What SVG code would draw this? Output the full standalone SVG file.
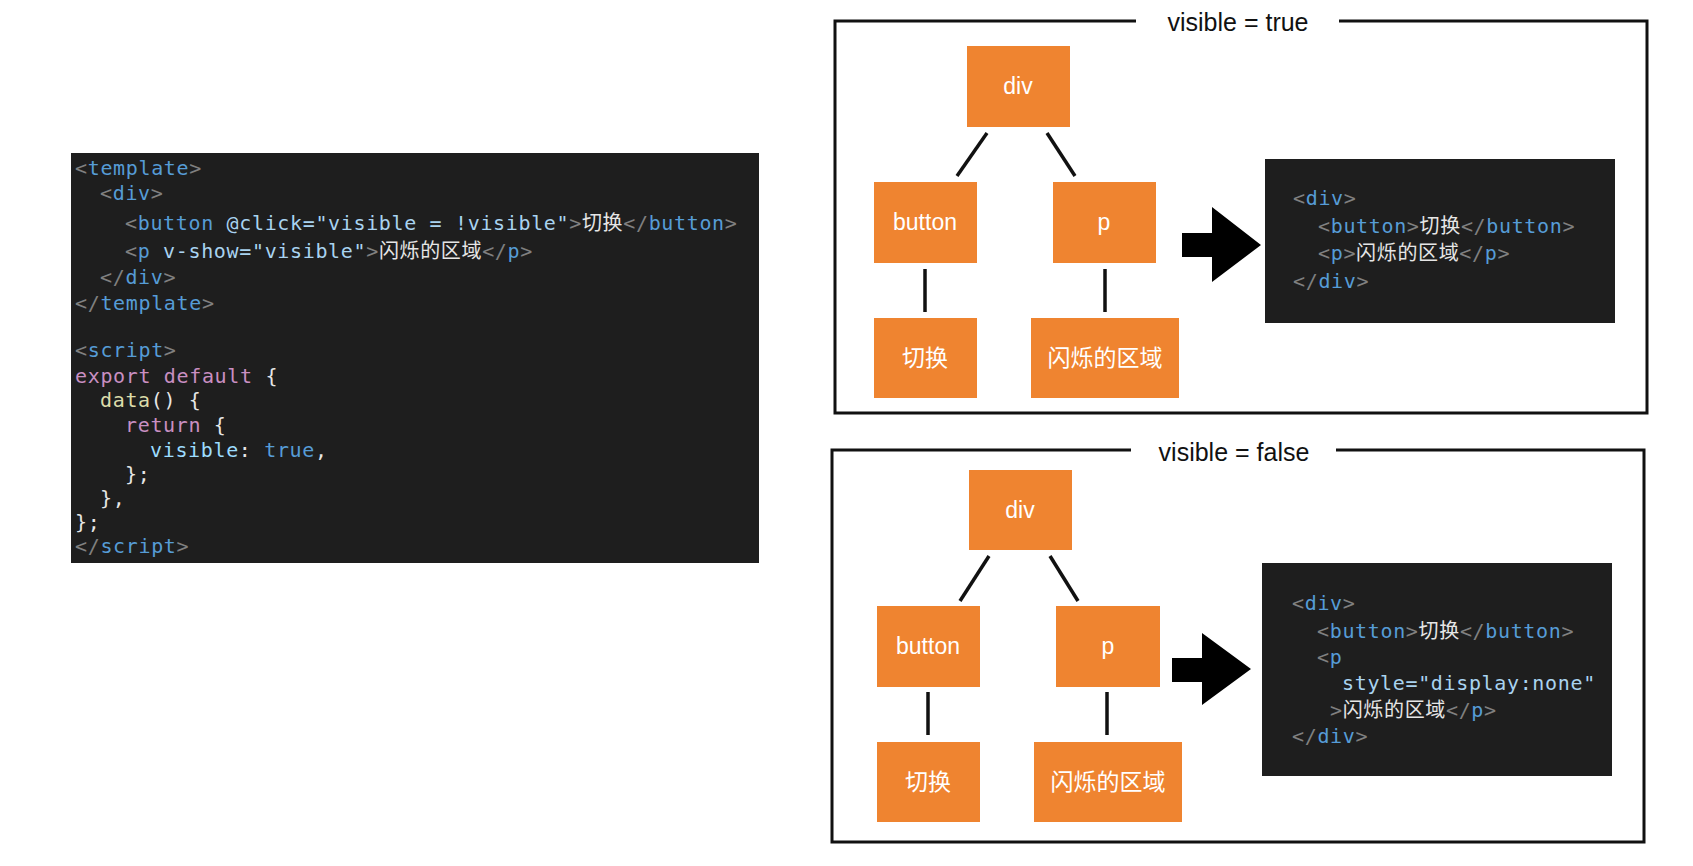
<svg xmlns="http://www.w3.org/2000/svg" width="1693" height="866" viewBox="0 0 1693 866">
<style>
  .bg{fill:#ffffff}
  .code{fill:#1e1e1e}
  .mono{font-family:"DejaVu Sans Mono","Noto Sans CJK SC",monospace;font-size:20px;letter-spacing:0.65px;fill:#d4d4d4}
  .p{fill:#808080}
  .t{fill:#569cd6}
  .a{fill:#a9d3f0}
  .w{fill:#e6e6e6}
  .k{fill:#c98fc2}
  .f{fill:#dcdcaa}
  .v{fill:#9cdcfe}
  .node rect{fill:#ef8430}
  .node text{font-family:"Liberation Sans","Noto Sans CJK SC",sans-serif;font-size:23px;fill:#ffffff;text-anchor:middle}
  .frame{fill:none;stroke:#111111;stroke-width:3}
  .flabel{font-family:"Liberation Sans",Arial,sans-serif;font-size:25px;fill:#111111;text-anchor:middle}
  .edge{stroke:#111111;stroke-width:3.5;fill:none}
  .arrow{fill:#000000}
</style>
<rect class="bg" x="0" y="0" width="1693" height="866"/>

<!-- Left source code -->
<g id="source-code">
  <rect class="code" x="71" y="153" width="688" height="410"/>
  <text class="mono" x="75" y="175"><tspan class="p">&lt;</tspan><tspan class="t">template</tspan><tspan class="p">&gt;</tspan></text>
  <text class="mono" x="100" y="200"><tspan class="p">&lt;</tspan><tspan class="t">div</tspan><tspan class="p">&gt;</tspan></text>
  <text class="mono" x="125" y="230"><tspan class="p">&lt;</tspan><tspan class="t">button</tspan> <tspan class="a">@click="visible = !visible"</tspan><tspan class="p">&gt;</tspan><tspan class="w">切换</tspan><tspan class="p">&lt;/</tspan><tspan class="t">button</tspan><tspan class="p">&gt;</tspan></text>
  <text class="mono" x="125" y="258"><tspan class="p">&lt;</tspan><tspan class="t">p</tspan> <tspan class="a">v-show="visible"</tspan><tspan class="p">&gt;</tspan><tspan class="w">闪烁的区域</tspan><tspan class="p">&lt;/</tspan><tspan class="t">p</tspan><tspan class="p">&gt;</tspan></text>
  <text class="mono" x="100" y="284"><tspan class="p">&lt;/</tspan><tspan class="t">div</tspan><tspan class="p">&gt;</tspan></text>
  <text class="mono" x="75" y="310"><tspan class="p">&lt;/</tspan><tspan class="t">template</tspan><tspan class="p">&gt;</tspan></text>
  <text class="mono" x="75" y="357"><tspan class="p">&lt;</tspan><tspan class="t">script</tspan><tspan class="p">&gt;</tspan></text>
  <text class="mono" x="75" y="383"><tspan class="k">export default</tspan> <tspan class="w">{</tspan></text>
  <text class="mono" x="100" y="407"><tspan class="f">data</tspan><tspan class="w">() {</tspan></text>
  <text class="mono" x="125" y="432"><tspan class="k">return</tspan> <tspan class="w">{</tspan></text>
  <text class="mono" x="150" y="457"><tspan class="v">visible</tspan><tspan class="w">: </tspan><tspan class="t">true</tspan><tspan class="w">,</tspan></text>
  <text class="mono" x="125" y="481"><tspan class="w">};</tspan></text>
  <text class="mono" x="100" y="505"><tspan class="w">},</tspan></text>
  <text class="mono" x="75" y="529"><tspan class="w">};</tspan></text>
  <text class="mono" x="75" y="553"><tspan class="p">&lt;/</tspan><tspan class="t">script</tspan><tspan class="p">&gt;</tspan></text>
</g>

<!-- Top frame: visible = true -->
<g id="frame-true">
  <path class="frame" d="M1136,21 L835,21 L835,413 L1647,413 L1647,21 L1339,21"/>
  <text class="flabel" x="1238" y="31">visible = true</text>
</g>

<!-- Bottom frame: visible = false -->
<g id="frame-false">
  <path class="frame" d="M1131,450 L832,450 L832,842 L1644,842 L1644,450 L1336,450"/>
  <text class="flabel" x="1234" y="461">visible = false</text>
</g>

<!-- Connectors -->
<g id="connectors">
  <line class="edge" x1="987" y1="133" x2="957" y2="176"/>
  <line class="edge" x1="1047" y1="133" x2="1075" y2="176"/>
  <line class="edge" x1="925" y1="269" x2="925" y2="312"/>
  <line class="edge" x1="1105" y1="269" x2="1105" y2="312"/>
  <polygon class="arrow" points="1182,233 1212,233 1212,207 1261,245 1212,282 1212,257 1182,257"/>

  <line class="edge" x1="989" y1="556" x2="960" y2="601"/>
  <line class="edge" x1="1050" y1="556" x2="1078" y2="601"/>
  <line class="edge" x1="928" y1="692" x2="928" y2="735"/>
  <line class="edge" x1="1107" y1="692" x2="1107" y2="735"/>
  <polygon class="arrow" points="1172,658 1202,658 1202,633 1251,669 1202,705 1202,682 1172,682"/>
</g>

<!-- Top tree nodes -->
<g id="t-div" class="node"><rect x="967" y="46" width="103" height="81"/><text x="1018" y="94">div</text></g>
<g id="t-button" class="node"><rect x="874" y="182" width="103" height="81"/><text x="925" y="230">button</text></g>
<g id="t-p" class="node"><rect x="1053" y="182" width="103" height="81"/><text x="1104" y="230">p</text></g>
<g id="t-switch" class="node"><rect x="874" y="318" width="103" height="80"/><text x="925" y="366">切换</text></g>
<g id="t-area" class="node"><rect x="1031" y="318" width="148" height="80"/><text x="1105" y="366">闪烁的区域</text></g>

<!-- Top rendered code -->
<g id="t-code">
  <rect class="code" x="1265" y="159" width="350" height="164"/>
  <text class="mono" x="1293" y="205"><tspan class="p">&lt;</tspan><tspan class="t">div</tspan><tspan class="p">&gt;</tspan></text>
  <text class="mono" x="1318" y="233"><tspan class="p">&lt;</tspan><tspan class="t">button</tspan><tspan class="p">&gt;</tspan><tspan class="w">切换</tspan><tspan class="p">&lt;/</tspan><tspan class="t">button</tspan><tspan class="p">&gt;</tspan></text>
  <text class="mono" x="1318" y="260"><tspan class="p">&lt;</tspan><tspan class="t">p</tspan><tspan class="p">&gt;</tspan><tspan class="w">闪烁的区域</tspan><tspan class="p">&lt;/</tspan><tspan class="t">p</tspan><tspan class="p">&gt;</tspan></text>
  <text class="mono" x="1293" y="288"><tspan class="p">&lt;/</tspan><tspan class="t">div</tspan><tspan class="p">&gt;</tspan></text>
</g>

<!-- Bottom tree nodes -->
<g id="b-div" class="node"><rect x="969" y="470" width="103" height="80"/><text x="1020" y="518">div</text></g>
<g id="b-button" class="node"><rect x="877" y="606" width="103" height="81"/><text x="928" y="654">button</text></g>
<g id="b-p" class="node"><rect x="1056" y="606" width="104" height="81"/><text x="1108" y="654">p</text></g>
<g id="b-switch" class="node"><rect x="877" y="742" width="103" height="80"/><text x="928" y="790">切换</text></g>
<g id="b-area" class="node"><rect x="1034" y="742" width="148" height="80"/><text x="1108" y="790">闪烁的区域</text></g>

<!-- Bottom rendered code -->
<g id="b-code">
  <rect class="code" x="1262" y="563" width="350" height="213"/>
  <text class="mono" x="1292" y="610"><tspan class="p">&lt;</tspan><tspan class="t">div</tspan><tspan class="p">&gt;</tspan></text>
  <text class="mono" x="1317" y="638"><tspan class="p">&lt;</tspan><tspan class="t">button</tspan><tspan class="p">&gt;</tspan><tspan class="w">切换</tspan><tspan class="p">&lt;/</tspan><tspan class="t">button</tspan><tspan class="p">&gt;</tspan></text>
  <text class="mono" x="1317" y="664"><tspan class="p">&lt;</tspan><tspan class="t">p</tspan></text>
  <text class="mono" x="1342" y="690"><tspan class="a">style="display:none"</tspan></text>
  <text class="mono" x="1330" y="717"><tspan class="p">&gt;</tspan><tspan class="w">闪烁的区域</tspan><tspan class="p">&lt;/</tspan><tspan class="t">p</tspan><tspan class="p">&gt;</tspan></text>
  <text class="mono" x="1292" y="743"><tspan class="p">&lt;/</tspan><tspan class="t">div</tspan><tspan class="p">&gt;</tspan></text>
</g>
</svg>
